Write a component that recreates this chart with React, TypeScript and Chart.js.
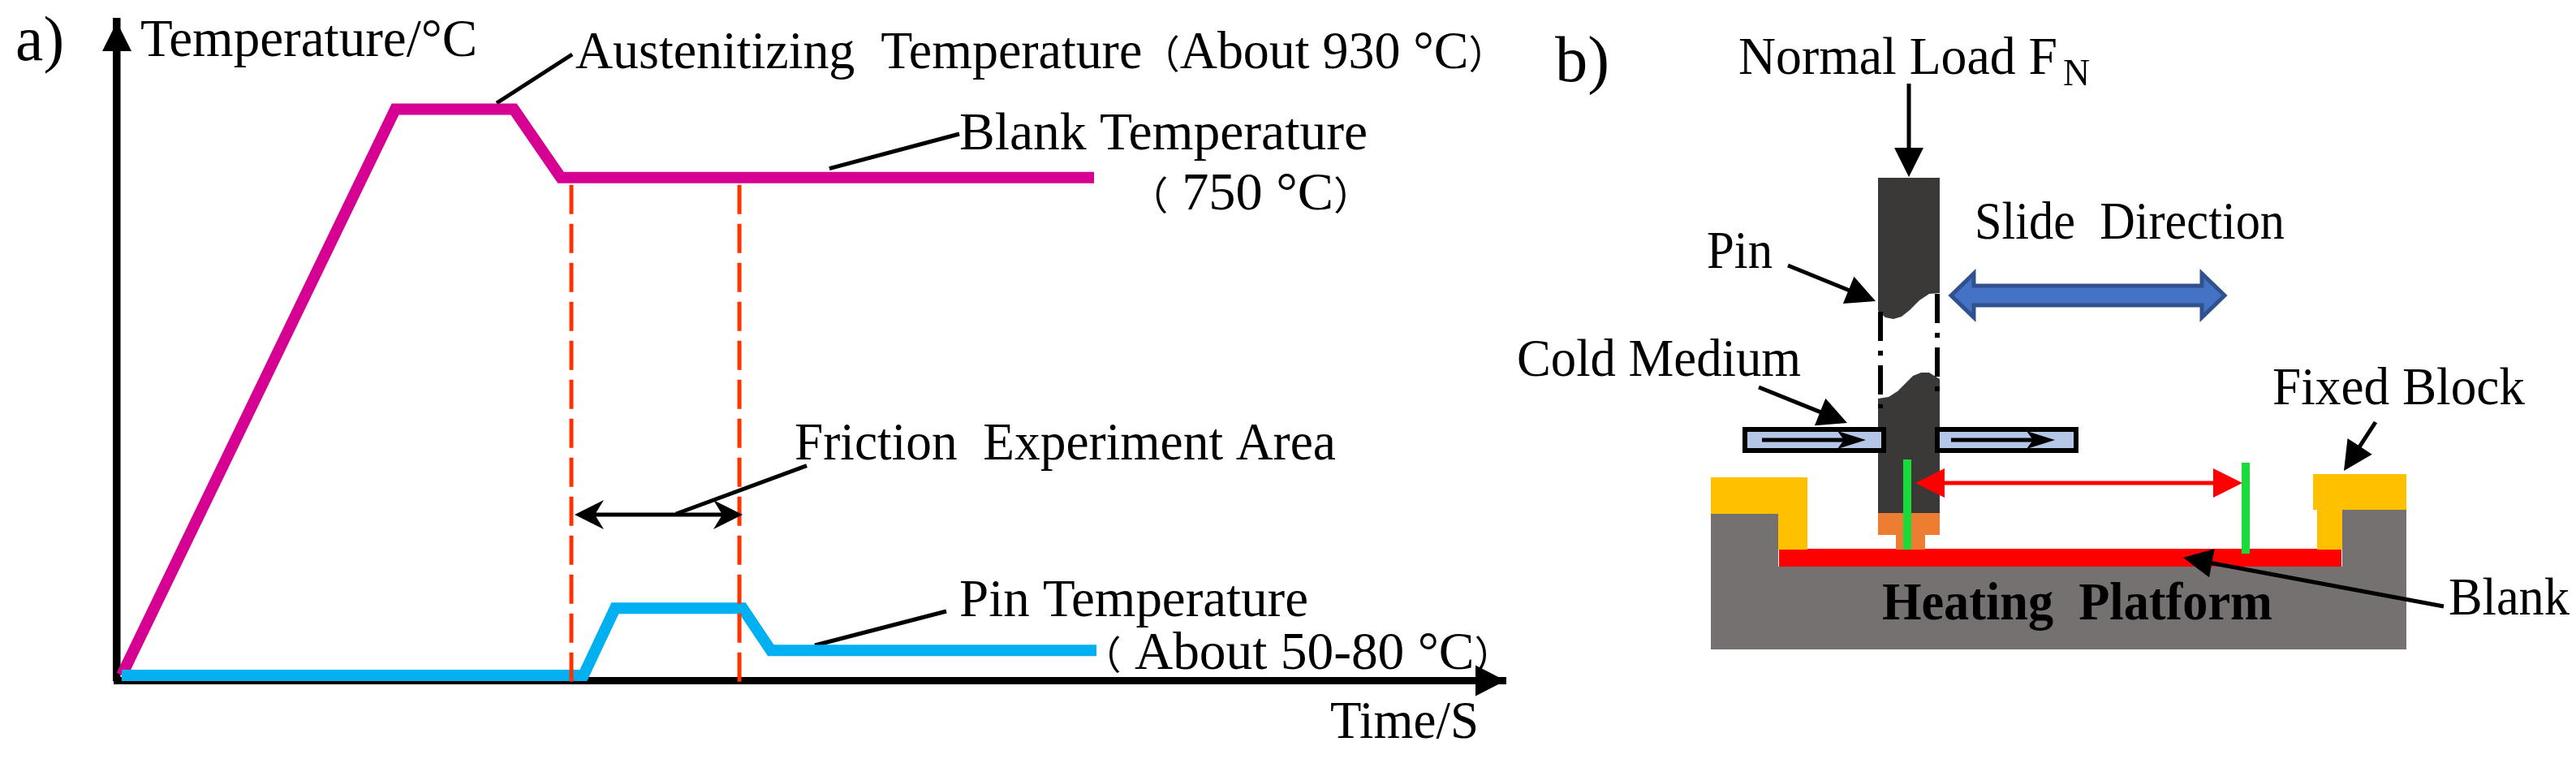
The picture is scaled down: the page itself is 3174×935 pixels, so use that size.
import React, { useEffect, useRef } from "react";
import { Chart, registerables } from "chart.js";

Chart.register(...registerables);

// ---------- Panel a) values: time (arbitrary units, 0-100) and temperature (°C as drawn) ----------
const blankTime = [0.35, 20.05, 28.58, 31.97, 70.37];
const blankTemp = [8, 852, 852, 750, 750];
const pinTime = [0.35, 33.6, 35.88, 45.06, 47.1, 70.54];
const pinTemp = [8, 8, 108, 108, 45, 45];
const windowStart = [32.73, 32.73];
const windowEnd = [44.83, 44.83];
const windowTemp = [739, -4];
const leaderAustTime = [27.35, 32.79];
const leaderAustTemp = [861, 933.6];
const leaderBlankTime = [51.31, 60.67];
const leaderBlankTemp = [763.5, 815];
const leaderAreaTime = [40.27, 49.68];
const leaderAreaTemp = [248.7, 320.6];
const leaderPinTime = [50.26, 59.73];
const leaderPinTemp = [52.6, 103.5];
const areaArrowTime = [32.96, 45.06];
const areaArrowTemp = [247.5, 247.5];

const textsA = ["a)", "Temperature/°C", "Austenitizing  Temperature（About 930 °C）", "Blank Temperature", "（ 750 °C）", "Friction  Experiment Area", "Pin Temperature", "（ About 50-80 °C）", "Time/S"];
const textsATime = [-7.3, 1.7, 33.02, 60.67, 72.9, 48.8, 60.67, 69.55, 87.37];
const textsATemp = [924.6, 931, 913.5, 792, 702, 330, 96.8, 17.5, -85.4];
const textsAWidth = [60, 415, 1147, 503, 300, 667, 430, 530, 183];
const textsASize = [78, 66, 66, 66, 66, 66, 66, 66, 66];

// ---------- Panel b) schematic outlines, in drawing units ----------
const platformX = [2108, 2191, 2191, 2886, 2886, 2965, 2965, 2108];
const platformY = [633, 633, 698, 698, 628, 628, 800, 800];
const blankBarX = [2192, 2885, 2885, 2192];
const blankBarY = [676, 676, 698, 698];
const blockLeftX = [2108, 2227, 2227, 2191, 2191, 2108];
const blockLeftY = [588, 588, 677, 677, 633, 633];
const blockRightX = [2850, 2965, 2965, 2886, 2886, 2855, 2855, 2850];
const blockRightY = [584, 584, 628, 628, 677, 677, 628, 628];
const pinUpperX = [2314, 2390, 2390, 2377, 2365, 2353, 2343, 2333, 2323, 2314];
const pinUpperY = [219, 219, 361, 362, 370, 382, 390, 393, 391, 383];
const pinLowerX = [2314, 2327, 2338, 2347, 2357, 2367, 2377, 2390, 2390, 2314];
const pinLowerY = [491, 489, 482, 473, 463, 459, 459, 467, 632, 632];
const tipX = [2314, 2390, 2390, 2372, 2372, 2336, 2336, 2314];
const tipY = [632, 632, 659, 659, 677, 677, 659, 659];
const coolLeftX = [2150, 2321, 2321, 2150];
const coolRightX = [2387, 2558, 2558, 2387];
const coolY = [529, 529, 555, 555];
const slideX = [2404, 2432, 2432, 2713, 2713, 2741, 2713, 2713, 2432, 2432];
const slideY = [364, 337, 352, 352, 337, 364, 391, 376, 376, 391];
const breakLeftX = [2317, 2317];
const breakLeftY = [384, 503];
const breakRightX = [2387, 2387];
const breakRightY = [362, 482];
const gaugeLeftX = [2350, 2350];
const gaugeLeftY = [566, 677];
const gaugeRightX = [2767, 2767];
const gaugeRightY = [570, 682];
const loadArrowX = [2352, 2352];
const loadArrowY = [103, 218];
const pinArrowX = [2203, 2311];
const pinArrowY = [327, 371];
const coldArrowX = [2167, 2276];
const coldArrowY = [477, 521];
const flowLeftX = [2171, 2299];
const flowRightX = [2404, 2532];
const flowY = [542, 542];
const travelX = [2763, 2360];
const travelY = [595, 595];
const fixedArrowX = [2927, 2888];
const fixedArrowY = [520, 580];
const blankArrowX = [3011, 2690];
const blankArrowY = [747, 687];

const textsB = ["b)", "Normal Load F", "N", "Slide  Direction", "Pin", "Cold Medium", "Fixed Block", "Blank", "Heating  Platform"];
const textsBX = [1916, 2142, 2542, 2433, 2103, 1869, 2800, 3017, 2319];
const textsBY = [99.5, 91, 105, 294, 330, 463, 498, 757, 763];
const textsBWidth = [67, 393, 33, 382, 81, 350, 311, 149, 481];
const textsBSize = [80, 66, 46, 66, 66, 66, 66, 66, 66];
const textsBBold = [false, false, false, false, false, false, false, false, true];

const pts = (xs: number[], ys: number[]) => xs.map((x, i) => ({ x, y: ys[i] }));

const line = (xs: number[], ys: number[], color: string, width: number, extra: any = {}) => ({
  data: pts(xs, ys),
  showLine: true,
  borderColor: color,
  borderWidth: width,
  borderCapStyle: "butt",
  borderJoinStyle: "miter",
  pointRadius: 0,
  clip: false,
  ...extra,
});

const shape = (xs: number[], ys: number[], fill: string, stroke?: string, strokeWidth?: number) => ({
  data: pts(xs, ys),
  showLine: false,
  pointRadius: 0,
  clip: false,
  polyFill: fill,
  polyStroke: stroke,
  polyStrokeWidth: strokeWidth,
});

const arrow = (xs: number[], ys: number[], width: number, len: number, half: number, notch = 0, both = false, color = "#000000") => ({
  data: pts(xs, ys),
  showLine: false,
  pointRadius: 0,
  clip: false,
  arrow: { width, len, half, notch, both, color },
});

const sketchPlugin = {
  id: "sketch",
  beforeDatasetsDraw(chart: any) {
    const ctx = chart.ctx;
    chart.data.datasets.forEach((d: any, i: number) => {
      if (!d.polyFill) return;
      const p = chart.getDatasetMeta(i).data;
      ctx.save();
      ctx.beginPath();
      p.forEach((e: any, k: number) => (k ? ctx.lineTo(e.x, e.y) : ctx.moveTo(e.x, e.y)));
      ctx.closePath();
      ctx.fillStyle = d.polyFill;
      ctx.fill();
      if (d.polyStroke) {
        ctx.strokeStyle = d.polyStroke;
        ctx.lineWidth = d.polyStrokeWidth;
        ctx.lineJoin = "miter";
        ctx.stroke();
      }
      ctx.restore();
    });
  },
  afterDatasetsDraw(chart: any, _a: any, opts: any) {
    const ctx = chart.ctx;
    const head = (tip: any, from: any, a: any) => {
      const dx = tip.x - from.x, dy = tip.y - from.y, l = Math.hypot(dx, dy) || 1;
      const ux = dx / l, uy = dy / l;
      const bx = tip.x - ux * a.len, by = tip.y - uy * a.len;
      ctx.beginPath();
      ctx.moveTo(tip.x, tip.y);
      ctx.lineTo(bx - uy * a.half, by + ux * a.half);
      ctx.lineTo(tip.x - ux * (a.len - a.notch), tip.y - uy * (a.len - a.notch));
      ctx.lineTo(bx + uy * a.half, by - ux * a.half);
      ctx.closePath();
      ctx.fill();
      return { x: tip.x - ux * (a.len - a.notch - 1), y: tip.y - uy * (a.len - a.notch - 1) };
    };
    chart.data.datasets.forEach((d: any, i: number) => {
      if (!d.arrow) return;
      const [p0, p1] = chart.getDatasetMeta(i).data;
      const a = d.arrow;
      ctx.save();
      ctx.fillStyle = a.color;
      ctx.strokeStyle = a.color;
      const e = head(p1, p0, a);
      const s = a.both ? head(p0, p1, a) : p0;
      if (a.width) {
        ctx.lineWidth = a.width;
        ctx.lineCap = "butt";
        ctx.beginPath();
        ctx.moveTo(s.x, s.y);
        ctx.lineTo(e.x, e.y);
        ctx.stroke();
      }
      ctx.restore();
    });
    const { x, y } = chart.scales;
    (opts.labels || []).forEach((t: any) => {
      const runs = t.text.split(/([（）])/).filter((r: string) => r.length);
      const fontOf = (r: string) =>
        /[（）]/.test(r)
          ? `${Math.round(t.size * 0.73)}px "Noto Sans CJK SC", serif`
          : `${t.bold ? "bold " : ""}${t.size}px "Liberation Serif", serif`;
      ctx.save();
      ctx.fillStyle = "#000000";
      ctx.textBaseline = "alphabetic";
      let w = 0;
      for (const r of runs) {
        ctx.font = fontOf(r);
        w += ctx.measureText(r).width;
      }
      ctx.translate(x.getPixelForValue(t.x), y.getPixelForValue(t.y));
      ctx.scale(t.width / w, 1);
      let cx = 0;
      for (const r of runs) {
        ctx.font = fontOf(r);
        ctx.fillText(r, cx, 0);
        cx += ctx.measureText(r).width;
      }
      ctx.restore();
    });
  },
};

const baseOptions = (labels: any[], layout: any, scales: any) => ({
  responsive: false,
  animation: false,
  devicePixelRatio: 1,
  layout: { autoPadding: false, padding: layout },
  plugins: { legend: { display: false }, tooltip: { enabled: false }, title: { display: false }, sketch: { labels } },
  scales,
});

export default function App() {
  const a = useRef<HTMLCanvasElement>(null);
  const b = useRef<HTMLCanvasElement>(null);

  useEffect(() => {
    const axis = (min: number, max: number, width: number) => ({
      type: "linear",
      min,
      max,
      grid: { display: false, drawTicks: false },
      ticks: { display: false },
      border: { display: true, width, color: "#000000" },
      afterFit: (s: any) => {
        if (s.isHorizontal()) s.height = 0;
        else s.width = 0;
      },
    });

    const chartA = new Chart(a.current as any, {
      type: "scatter",
      data: {
        datasets: [
          line(windowStart, windowTemp, "#FF3300", 5, { borderDash: [36, 12] }),
          line(windowEnd, windowTemp, "#FF3300", 5, { borderDash: [36, 12] }),
          line(pinTime, pinTemp, "#00B0F0", 14),
          line(blankTime, blankTemp, "#D60093", 14),
          line(leaderAustTime, leaderAustTemp, "#000000", 5),
          line(leaderBlankTime, leaderBlankTemp, "#000000", 5),
          line(leaderAreaTime, leaderAreaTemp, "#000000", 5),
          line(leaderPinTime, leaderPinTemp, "#000000", 5),
          arrow(areaArrowTime, areaArrowTemp, 5, 36, 18, 11, true),
          arrow([95, 100], [0, 0], 0, 37, 19),
          arrow([0, 0], [930, 982], 0, 36, 18),
        ] as any,
      },
      options: baseOptions(
        textsA.map((text, i) => ({ text, x: textsATime[i], y: textsATemp[i], width: textsAWidth[i], size: textsASize[i] })),
        { left: 144, top: 27, right: 5, bottom: 96.5 },
        { x: axis(0, 100, 9), y: axis(0, 982, 9.5) }
      ) as any,
      plugins: [sketchPlugin],
    });

    const chartB = new Chart(b.current as any, {
      type: "scatter",
      data: {
        datasets: [
          shape(platformX, platformY, "#767171"),
          shape(blankBarX, blankBarY, "#FF0000"),
          shape(blockLeftX, blockLeftY, "#FFC000"),
          shape(blockRightX, blockRightY, "#FFC000"),
          shape(pinUpperX, pinUpperY, "#3B3838"),
          shape(pinLowerX, pinLowerY, "#3B3838"),
          shape(tipX, tipY, "#ED7D31"),
          shape(coolLeftX, coolY, "#B4C7E7", "#000000", 6),
          shape(coolRightX, coolY, "#B4C7E7", "#000000", 6),
          shape(slideX, slideY, "#4472C4", "#2F528F", 5),
          line(gaugeLeftX, gaugeLeftY, "#1ADB3C", 10),
          line(gaugeRightX, gaugeRightY, "#1ADB3C", 10),
          line(breakLeftX, breakLeftY, "#000000", 6, { borderDash: [36, 12, 6, 12] }),
          line(breakRightX, breakRightY, "#000000", 6, { borderDash: [36, 12, 6, 12] }),
          arrow(loadArrowX, loadArrowY, 5, 36, 18),
          arrow(pinArrowX, pinArrowY, 5, 36, 18),
          arrow(coldArrowX, coldArrowY, 5, 36, 18),
          arrow(flowLeftX, flowY, 5, 35, 11, 8),
          arrow(flowRightX, flowY, 5, 35, 11, 8),
          arrow(travelX, travelY, 5, 36, 18, 0, true, "#FF0000"),
          arrow(fixedArrowX, fixedArrowY, 5, 36, 18),
          arrow(blankArrowX, blankArrowY, 5, 36, 18),
        ] as any,
      },
      options: baseOptions(
        textsB.map((text, i) => ({ text, x: textsBX[i], y: textsBY[i], width: textsBWidth[i], size: textsBSize[i], bold: textsBBold[i] })),
        0,
        {
          x: { type: "linear", display: false, min: 1860, max: 3174 },
          y: { type: "linear", display: false, min: 0, max: 935, reverse: true },
        }
      ) as any,
      plugins: [sketchPlugin],
    });

    return () => {
      chartA.destroy();
      chartB.destroy();
    };
  }, []);

  return (
    <div style={{ position: "absolute", left: 0, top: 0, width: 3174, height: 935, background: "#ffffff", overflow: "hidden" }}>
      <canvas ref={a} width={1860} height={935} style={{ position: "absolute", left: 0, top: 0, display: "block" }} />
      <canvas ref={b} width={1314} height={935} style={{ position: "absolute", left: 1860, top: 0, display: "block" }} />
    </div>
  );
}
